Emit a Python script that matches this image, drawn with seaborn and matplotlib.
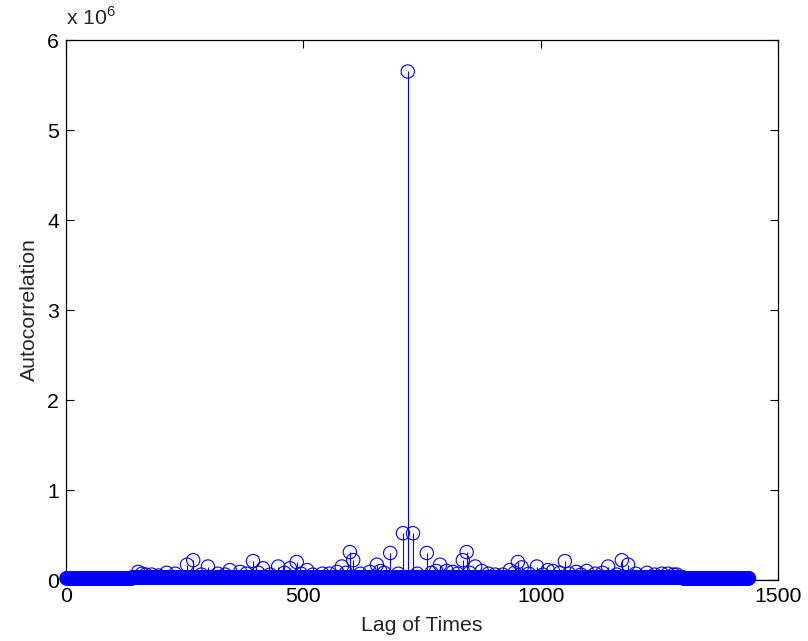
import numpy as np
import pandas as pd
import matplotlib
matplotlib.use("Agg")
import matplotlib.pyplot as plt
import seaborn as sns

# ---- data ----
N_LAGS = 1439
band_start = [1, 140, 1300]
band_end = [139, 1299, 1439]
band_level = [0.018e6, 0.03e6, 0.018e6]

peak_lags = [152, 168, 212, 255, 268, 299, 345, 367, 394, 415, 447, 472, 486,
             508, 540, 571, 581, 598, 605, 655, 662, 683, 710, 720, 731, 760,
             780, 788, 802, 836, 844, 862, 876, 904, 935, 952, 960, 992, 1015,
             1026, 1051, 1075, 1097, 1142, 1171, 1184, 1224, 1268, 1287]
peak_vals = [0.09e6, 0.06e6, 0.08e6, 0.17e6, 0.22e6, 0.15e6, 0.11e6, 0.09e6,
             0.21e6, 0.13e6, 0.15e6, 0.13e6, 0.20e6, 0.11e6, 0.07e6, 0.09e6,
             0.15e6, 0.31e6, 0.22e6, 0.17e6, 0.10e6, 0.30e6, 0.52e6, 5.65e6,
             0.52e6, 0.30e6, 0.10e6, 0.17e6, 0.10e6, 0.22e6, 0.31e6, 0.15e6,
             0.10e6, 0.06e6, 0.11e6, 0.20e6, 0.14e6, 0.15e6, 0.11e6, 0.10e6,
             0.21e6, 0.09e6, 0.10e6, 0.15e6, 0.22e6, 0.17e6, 0.08e6, 0.07e6,
             0.06e6]

# smaller bumps that give the dense bottom band its scalloped top
bump_lags = [160, 180, 195, 230, 285, 320, 335, 380, 405, 430, 460, 495, 520,
             555, 590, 620, 640, 670, 700, 740, 770, 815, 825, 850, 890, 920,
             945, 975, 1005, 1040, 1060, 1085, 1115, 1130, 1160, 1200, 1240,
             1255, 1280]
bump_vals = [0.07e6, 0.06e6, 0.05e6, 0.07e6, 0.06e6, 0.07e6, 0.06e6, 0.07e6,
             0.08e6, 0.06e6, 0.08e6, 0.07e6, 0.06e6, 0.07e6, 0.08e6, 0.07e6,
             0.09e6, 0.08e6, 0.07e6, 0.07e6, 0.08e6, 0.09e6, 0.07e6, 0.08e6,
             0.07e6, 0.06e6, 0.08e6, 0.07e6, 0.06e6, 0.08e6, 0.07e6, 0.06e6,
             0.07e6, 0.08e6, 0.06e6, 0.07e6, 0.06e6, 0.07e6, 0.06e6]

x_ticks = [0, 500, 1000, 1500]
x_ticklabels = ["0", "500", "1000", "1500"]
y_ticks = [0, 1e6, 2e6, 3e6, 4e6, 5e6, 6e6]
y_ticklabels = ["0", "1", "2", "3", "4", "5", "6"]

# ---- build table ----
lags = np.arange(1, N_LAGS + 1)
acf = np.zeros(N_LAGS)
for s, e, lv in zip(band_start, band_end, band_level):
    acf[(lags >= s) & (lags <= e)] = lv
for lg, v in zip(bump_lags, bump_vals):
    acf[lg - 1] = v
for lg, v in zip(peak_lags, peak_vals):
    acf[lg - 1] = v
df = pd.DataFrame({"lag": lags, "acf": acf})

# ---- style ----
sns.set_theme(style="ticks")
plt.rcParams["font.family"] = ["Liberation Sans", "DejaVu Sans"]
plt.rcParams["mathtext.fontset"] = "custom"
plt.rcParams["mathtext.rm"] = "Liberation Sans"
FS = 15.3
BLUE = (0, 0, 1)

fig = plt.figure(figsize=(8.08, 6.41), dpi=100)
ax = fig.add_axes([66 / 808, 1 - 580 / 641, 712 / 808, 540 / 641])

ax.vlines(df["lag"], 0, df["acf"], color=BLUE, lw=0.8, zorder=2)
sns.scatterplot(data=df, x="lag", y="acf", ax=ax, marker="o", s=92,
                color=BLUE, linewidth=0.8, legend=False, clip_on=False, zorder=3)
coll = ax.collections[-1]
coll.set_facecolor("none")
coll.set_edgecolor(BLUE)
ax.axhline(0, color="black", lw=0.9, zorder=4)

ax.set_xlim(0, 1500)
ax.set_ylim(0, 6e6)
ax.set_xticks(x_ticks)
ax.set_xticklabels(x_ticklabels)
ax.set_yticks(y_ticks)
ax.set_yticklabels(y_ticklabels)
ax.tick_params(direction="in", length=6, width=0.8, top=True, right=True,
               labelsize=FS, pad=5, colors="black")
for sp in ax.spines.values():
    sp.set_visible(True)
    sp.set_color("black")
    sp.set_linewidth(0.9)

ax.set_xlabel("Lag of Times", fontsize=FS, labelpad=7)
ax.set_ylabel("Autocorrelation", fontsize=FS, labelpad=6)
ax.text(0.0, 1.02, r"x 10$^{6}$", transform=ax.transAxes, fontsize=FS,
        ha="left", va="bottom")

fig.savefig("out.png", dpi=100)
